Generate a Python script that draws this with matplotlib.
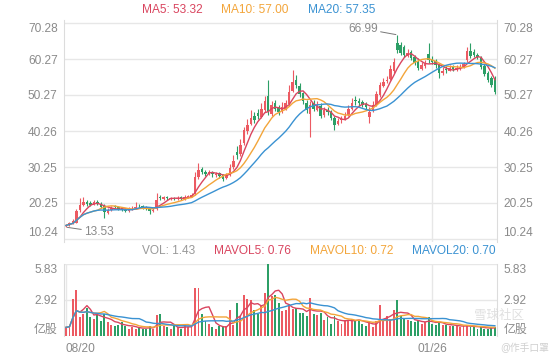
import matplotlib
matplotlib.use("Agg")
import matplotlib.pyplot as plt
import numpy as np
import pandas as pd

plt.rcParams['font.family'] = ['Liberation Sans', 'Noto Sans CJK SC', 'DejaVu Sans']

#-------data-------
opens = [13.8, 14.2, 14.6, 14.8, 18.2, 19.8, 20.6, 20.2, 19.8, 20.6,
         20.0, 19.5, 17.6, 18.2, 19.3, 19.0, 18.8, 18.4, 18.0, 18.4,
         18.8, 19.5, 19.4, 19.2, 18.8, 18.0, 18.5, 21.8, 21.4, 21.9,
         21.4, 21.7, 21.3, 21.8, 21.4, 21.8, 22.0, 22.8, 27.6, 29.6,
         28.9, 28.3, 28.8, 28.0, 28.5, 27.9, 27.2, 28.0, 30.2, 34.5,
         33.8, 36.8, 40.2, 42.3, 44.5, 45.2, 44.2, 46.0, 50.0, 45.0,
         48.0, 46.8, 45.8, 46.5, 47.8, 51.5, 54.5, 52.8, 50.8, 48.0,
         45.0, 48.0, 46.2, 47.2, 44.8, 46.2, 45.5, 43.8, 42.2, 43.2,
         43.6, 44.8, 46.4, 48.8, 48.6, 48.2, 47.8, 44.2, 45.8, 47.6,
         50.2, 52.8, 54.2, 54.8, 57.0, 64.7, 64.2, 63.6, 61.2, 62.2,
         60.8, 59.5, 57.6, 58.3, 61.8, 60.2, 59.8, 58.6, 56.3, 57.4,
         57.0, 58.0, 57.2, 57.6, 58.1, 60.0, 62.5, 62.2, 61.4, 60.6,
         58.2, 56.5, 55.0, 55.0]
closes = [14.0, 14.6, 15.2, 18.0, 19.6, 20.6, 19.9, 19.8, 20.4, 20.0,
          19.2, 17.8, 18.3, 18.9, 19.1, 18.6, 18.3, 18.1, 18.5, 18.7,
          19.1, 19.3, 19.0, 18.8, 18.1, 18.4, 21.2, 21.5, 21.8, 21.5,
          21.6, 21.4, 21.7, 21.5, 21.9, 22.2, 22.5, 27.5, 29.4, 28.8,
          28.4, 28.9, 28.2, 28.4, 27.8, 27.0, 28.0, 30.0, 32.0, 33.5,
          36.5, 40.5, 42.0, 44.0, 43.2, 44.5, 46.5, 48.5, 45.5, 47.5,
          46.5, 45.5, 47.0, 48.0, 51.0, 54.0, 53.0, 50.5, 48.5, 46.0,
          47.5, 46.5, 47.5, 44.5, 46.0, 45.5, 44.0, 42.0, 43.0, 43.5,
          44.5, 46.5, 48.0, 48.5, 48.0, 47.5, 47.0, 45.5, 47.5, 50.5,
          53.0, 54.0, 54.5, 57.5, 59.5, 62.8, 62.0, 61.5, 62.0, 60.5,
          59.2, 57.8, 58.5, 59.0, 60.0, 59.5, 58.5, 56.5, 57.0, 57.2,
          57.8, 57.5, 57.8, 58.0, 58.8, 62.5, 61.0, 61.5, 60.8, 58.0,
          56.0, 54.5, 53.0, 51.0]
highs = [14.4, 15.0, 15.8, 18.6, 21.5, 22.0, 21.2, 20.8, 21.0, 21.0,
         20.4, 19.9, 18.9, 19.5, 19.8, 19.4, 19.0, 18.8, 19.2, 19.4,
         20.6, 20.0, 19.8, 19.5, 19.0, 18.9, 23.0, 22.4, 22.2, 22.3,
         22.0, 22.0, 22.2, 22.1, 22.4, 22.6, 23.0, 29.0, 31.3, 30.2,
         29.4, 29.5, 29.2, 29.0, 28.9, 28.2, 28.6, 31.0, 33.5, 36.0,
         38.0, 41.5, 43.5, 46.0, 45.5, 46.5, 48.0, 50.0, 54.4, 48.5,
         49.0, 47.5, 48.2, 49.0, 53.0, 57.2, 55.8, 53.5, 51.0, 49.0,
         48.5, 48.8, 48.5, 48.0, 47.0, 47.0, 46.0, 44.5, 44.0, 44.5,
         45.5, 47.5, 49.5, 50.0, 49.5, 48.8, 48.2, 47.0, 48.5, 51.5,
         54.0, 55.0, 55.5, 58.5, 60.5, 66.99, 65.0, 64.2, 63.0, 62.8,
         61.5, 60.5, 59.5, 60.0, 64.7, 61.0, 60.2, 59.0, 58.0, 58.2,
         58.5, 58.6, 58.5, 58.8, 59.5, 63.6, 64.7, 63.0, 62.0, 61.0,
         58.8, 57.0, 55.5, 55.5]
lows = [13.53, 13.9, 14.4, 14.7, 17.8, 19.5, 19.5, 19.3, 19.6, 19.6,
        18.8, 16.1, 17.3, 18.0, 18.8, 18.2, 17.9, 17.8, 17.8, 18.2,
        18.6, 18.9, 18.6, 18.4, 17.2, 17.8, 18.3, 21.0, 21.1, 21.1,
        21.0, 21.0, 21.1, 21.1, 21.2, 21.6, 21.8, 22.5, 27.0, 28.2,
        27.8, 28.0, 27.6, 27.6, 27.3, 26.5, 26.9, 27.8, 29.8, 32.5,
        33.2, 36.5, 39.5, 41.8, 42.5, 43.5, 43.8, 45.5, 44.8, 44.5,
        45.8, 44.8, 45.2, 46.0, 47.2, 51.0, 52.2, 49.8, 47.8, 45.2,
        38.6, 45.8, 45.8, 43.8, 44.2, 44.8, 43.2, 40.6, 41.8, 42.6,
        43.2, 44.5, 46.0, 47.6, 47.2, 46.8, 46.2, 42.5, 45.5, 47.2,
        49.8, 52.5, 53.5, 54.5, 56.5, 62.0, 61.5, 60.8, 60.8, 60.0,
        58.6, 57.2, 57.2, 57.8, 59.2, 58.8, 57.8, 55.0, 55.8, 56.5,
        56.8, 56.8, 57.0, 57.2, 57.8, 59.5, 60.5, 60.8, 60.2, 57.5,
        55.5, 54.0, 52.5, 50.5]
volumes = [0.7, 0.8, 3.0, 3.7, 1.5, 1.8, 2.3, 1.5, 1.4, 1.7,
           1.2, 1.8, 1.1, 0.9, 0.8, 0.9, 1.1, 0.8, 0.6, 0.7,
           0.6, 0.7, 0.6, 0.6, 0.8, 0.6, 1.7, 1.8, 0.8, 0.7,
           0.6, 0.8, 0.7, 0.6, 0.9, 0.7, 0.8, 3.9, 3.9, 1.8,
           1.2, 1.0, 0.7, 0.6, 0.8, 0.7, 0.8, 2.1, 0.9, 2.7,
           1.6, 3.3, 3.0, 2.9, 2.1, 1.8, 2.4, 3.5, 5.83, 3.2,
           3.3, 2.7, 2.0, 2.1, 2.6, 2.2, 2.3, 1.9, 1.9, 1.6,
           3.1, 1.8, 1.7, 1.9, 1.3, 1.5, 1.0, 1.6, 1.2, 1.0,
           1.3, 1.3, 1.4, 1.2, 1.3, 1.0, 0.8, 1.1, 0.7, 1.2,
           2.5, 1.3, 1.6, 1.4, 2.1, 2.9, 1.6, 1.4, 1.3, 1.2,
           1.1, 1.3, 1.0, 1.1, 1.5, 1.0, 0.9, 1.1, 0.9, 0.9,
           0.8, 0.8, 0.9, 0.7, 0.8, 0.9, 0.7, 0.8, 0.6, 0.7,
           0.6, 0.6, 0.7, 0.7]
date_ticks = [0, 105]
date_labels = ["08/20", "01/26"]
price_ticks = [10.24, 20.25, 30.25, 40.26, 50.27, 60.27, 70.28]
vol_ticks = [0, 2.92, 5.83]
vol_tick_labels = ["亿股", "2.92", "5.83"]
ma_text = ["MA5: 53.32", "MA10: 57.00", "MA20: 57.35"]
vol_text = ["VOL: 1.43", "MAVOL5: 0.76", "MAVOL10: 0.72", "MAVOL20: 0.70"]

#-------style-------
UP = "#ec5a62"
DOWN = "#2c9f66"
C5 = "#d9455f"
C10 = "#f3a53a"
C20 = "#3a92d2"
GRID = "#e7e7e7"
TXT = "#8a8a8a"
FS = 8.6

df = pd.DataFrame({"o": opens, "c": closes, "h": highs, "l": lows, "v": volumes})
x = np.arange(len(df))
up = df["c"] >= df["o"]
colors = np.where(up, UP, DOWN)

fig = plt.figure(figsize=(5.6, 3.6), dpi=100)
ax = fig.add_axes([64/560, 1-242/360, 433/560, 222/360])
axv = fig.add_axes([64/560, 1-336/360, 433/560, 72/360])

xlim = (-0.57, 123.6)

#-------candles-------
ax.vlines(x, df["l"], df["h"], colors=colors, linewidth=0.8, zorder=3)
body_lo = np.minimum(df["o"], df["c"])
body_h = np.maximum(np.abs(df["c"] - df["o"]), 0.15)
ax.bar(x, body_h, bottom=body_lo, width=0.72, color=colors, linewidth=0, zorder=3)
for n, col in zip([5, 10, 20], [C5, C10, C20]):
    ax.plot(x, df["c"].rolling(n, min_periods=1).mean(), color=col, lw=1.0, zorder=4)

ax.set_xlim(*xlim)
ax.set_ylim(10.24 - 3/3.6, 70.28 + 3/3.6)
ax.set_yticks(price_ticks)
ax.set_yticklabels(["%.2f" % t for t in price_ticks])
ax.set_xticks([105])
ax.set_xticklabels([])

#-------volume-------
axv.bar(x, df["v"], width=0.55, color=colors, linewidth=0, zorder=3)
for n, col in zip([5, 10, 20], [C5, C10, C20]):
    axv.plot(x, df["v"].rolling(n, min_periods=1).mean(), color=col, lw=1.0, zorder=4)
axv.set_xlim(*xlim)
axv.set_ylim(0, 5.83)
axv.set_yticks(vol_ticks)
axv.set_yticklabels(vol_tick_labels)
axv.set_xticks(date_ticks)
axv.set_xticklabels(date_labels)

for a in (ax, axv):
    a.grid(True, color=GRID, lw=1.0, zorder=0)
    a.tick_params(length=0, labelsize=FS, labelcolor=TXT, labelleft=True, labelright=True, pad=4.5)
    for s in ["top", "bottom"]:
        a.spines[s].set_visible(False)
    for s in ["left", "right"]:
        a.spines[s].set_color("#dcdcdc")
    ticks = a.yaxis.get_major_ticks()
    for lab in (ticks[0].label1, ticks[0].label2):
        lab.set_va("bottom")
    for lab in (ticks[-1].label1, ticks[-1].label2):
        lab.set_va("top")

xt = axv.xaxis.get_major_ticks()
xt[0].label1.set_ha("left")
axv.tick_params(axis="x", pad=5)

#-------annotations-------
imax = int(np.argmax(df["h"]))
imin = int(np.argmin(df["l"]))
ax.annotate("%.2f" % df["h"][imax], xy=(imax, df["h"][imax]), xytext=(-14, 4.5),
            textcoords="offset points", ha="right", va="center", fontsize=FS, color=TXT,
            arrowprops=dict(arrowstyle="-", color="#777777", lw=0.7, shrinkA=0, shrinkB=1))
ax.annotate("%.2f" % df["l"][imin], xy=(imin, df["l"][imin]), xytext=(13, -3.5),
            textcoords="offset points", ha="left", va="center", fontsize=FS, color=TXT,
            arrowprops=dict(arrowstyle="-", color="#777777", lw=0.7, shrinkA=0, shrinkB=1))

#-------legends-------
for t, col, px in zip(ma_text, [C5, C10, C20], [142, 221, 308]):
    fig.text(px/560, 1-10/360, t, color=col, fontsize=FS, va="center", ha="left")
for t, col, px in zip(vol_text, ["#999999", C5, C10, C20], [142, 214, 310, 412]):
    fig.text(px/560, 1-251/360, t, color=col, fontsize=FS, va="center", ha="left")

# watermark
fig.text(474/560, 1-316/360, "雪球社区", color="#d8d8d8", fontsize=9, ha="left", va="center", alpha=0.8)
fig.text(500/560, 1-348/360, "@作手口罩", color="#cfcfcf", fontsize=7, ha="left", va="center")

fig.savefig("out.png", dpi=100)
